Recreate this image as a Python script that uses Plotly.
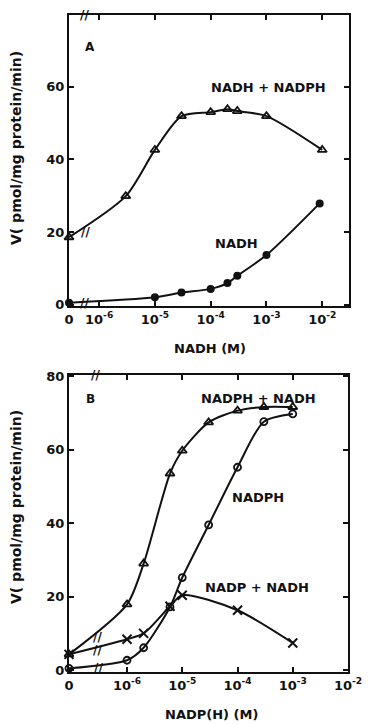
import plotly.graph_objects as go

# ---------------- data ----------------
# Panel A: NADH concentration (M), 0 = no NADH
a_conc_mix = [0, 3e-6, 1e-5, 3e-5, 1e-4, 2e-4, 3e-4, 1e-3, 1e-2]
a_v_mix = [18.6, 29.9, 42.6, 51.9, 53.0, 53.8, 53.3, 51.9, 42.6]      # NADH + NADPH
a_conc_nadh = [0, 1e-5, 3e-5, 1e-4, 2e-4, 3e-4, 1e-3, 9e-3]
a_v_nadh = [0.6, 2.1, 3.4, 4.4, 6.0, 8.0, 13.7, 27.9]                  # NADH

# Panel B: NADP(H) concentration (M)
b_conc_mix = [0, 1e-6, 2e-6, 6e-6, 1e-5, 3e-5, 1e-4, 3e-4, 1e-3]
b_v_mix = [4.3, 17.9, 29.0, 53.5, 59.7, 67.4, 70.6, 71.6, 71.6]        # NADPH + NADH
b_conc_nadph = [0, 1e-6, 2e-6, 6e-6, 1e-5, 3e-5, 1e-4, 3e-4, 1e-3]
b_v_nadph = [0.5, 2.7, 6.1, 17.2, 25.2, 39.5, 55.2, 67.6, 69.7]        # NADPH
b_conc_nadp = [0, 1e-6, 2e-6, 6e-6, 1e-5, 1e-4, 1e-3]
b_v_nadp = [4.3, 8.4, 10.0, 17.4, 20.4, 16.3, 7.4]                    # NADP + NADH

a_xticks = [0, 1e-6, 1e-5, 1e-4, 1e-3, 1e-2]
a_xticktext = ["0", "10<sup>-6</sup>", "10<sup>-5</sup>", "10<sup>-4</sup>",
               "10<sup>-3</sup>", "10<sup>-2</sup>"]
b_xticks = [0, 1e-6, 1e-5, 1e-4, 1e-3, 1e-2]
b_xticktext = ["0", "10<sup>-6</sup>", "10<sup>-5</sup>", "10<sup>-4</sup>",
               "10<sup>-3</sup>", "10<sup>-2</sup>"]
a_yticks = [0, 20, 40, 60]
b_yticks = [0, 20, 40, 60, 80]

# ---------------- layout constants ----------------
W, H = 371, 724
A_LOGRANGE = [-6.54, -1.52]     # log10 range of panel A x axis
B_LOGRANGE = [-7.05, -2.0]
A_ZERO = 10 ** A_LOGRANGE[0]    # where concentration 0 is drawn
B_ZERO = 10 ** B_LOGRANGE[0]

FONT = "DejaVu Sans"
INK = "#111111"


def px(x):
    return x / W


def py(y):
    return 1 - y / H


def zmap(conc, zero):
    return [zero if c == 0 else c for c in conc]


fig = go.Figure()

line = dict(color=INK, width=2, shape="spline", smoothing=0.75)

# Panel A
fig.add_trace(go.Scatter(x=zmap(a_conc_mix, A_ZERO), y=a_v_mix, mode="lines+markers",
                         line=line, cliponaxis=False,
                         marker=dict(symbol="triangle-up-open", size=8, color=INK,
                                     line=dict(width=1.8, color=INK)),
                         xaxis="x", yaxis="y"))
fig.add_trace(go.Scatter(x=zmap(a_conc_nadh, A_ZERO), y=a_v_nadh, mode="lines+markers",
                         line=line, cliponaxis=False,
                         marker=dict(symbol="circle", size=8, color=INK),
                         xaxis="x", yaxis="y"))
# Panel B
fig.add_trace(go.Scatter(x=zmap(b_conc_mix, B_ZERO), y=b_v_mix, mode="lines+markers",
                         line=line, cliponaxis=False,
                         marker=dict(symbol="triangle-up-open", size=8, color=INK,
                                     line=dict(width=1.8, color=INK)),
                         xaxis="x2", yaxis="y2"))
fig.add_trace(go.Scatter(x=zmap(b_conc_nadph, B_ZERO), y=b_v_nadph, mode="lines+markers",
                         line=line, cliponaxis=False,
                         marker=dict(symbol="circle-open", size=7, color=INK,
                                     line=dict(width=1.8, color=INK)),
                         xaxis="x2", yaxis="y2"))
fig.add_trace(go.Scatter(x=zmap(b_conc_nadp, B_ZERO), y=b_v_nadp, mode="lines+markers",
                         line=line, cliponaxis=False,
                         marker=dict(symbol="x-thin-open", size=9, color=INK,
                                     line=dict(width=2, color=INK)),
                         xaxis="x2", yaxis="y2"))

tickfont = dict(family=FONT, size=13, color=INK, weight="bold")
axis_common = dict(showline=True, linewidth=2, linecolor=INK, mirror="ticks",
                   ticks="inside", ticklen=5, tickwidth=2, tickcolor=INK,
                   showgrid=False, zeroline=False, tickfont=tickfont,
                   automargin=False)

fig.update_layout(
    template="none",
    width=W, height=H,
    margin=dict(l=0, r=0, t=0, b=0, pad=0, autoexpand=False),
    paper_bgcolor="white", plot_bgcolor="white",
    showlegend=False,
    xaxis=dict(type="log", range=A_LOGRANGE, domain=[px(69), px(349)],
               tickvals=zmap(a_xticks, A_ZERO), ticktext=a_xticktext,
               anchor="y", **axis_common),
    yaxis=dict(range=[-0.3, 79.7], domain=[py(306), py(15)], tickvals=a_yticks,
               anchor="x", **axis_common),
    xaxis2=dict(type="log", range=B_LOGRANGE, domain=[px(69), px(348)],
                tickvals=zmap(b_xticks, B_ZERO), ticktext=b_xticktext,
                anchor="y2", **axis_common),
    yaxis2=dict(range=[-0.5, 80.3], domain=[py(672), py(375)], tickvals=b_yticks,
                anchor="x2", **axis_common),
)

lab = dict(family=FONT, size=13, color=INK, weight="bold")
texts = [
    ("A", 90, 47, 12),
    ("NADH + NADPH", 268, 87, 13),
    ("NADH", 236, 243, 13),
    ("NADH (M)", 210, 348, 13),
    ("B", 90, 399, 12),
    ("NADPH + NADH", 258, 398, 13),
    ("NADPH", 258, 497, 13),
    ("NADP + NADH", 257, 587, 13),
    ("NADP(H) (M)", 211, 714, 13),
]
for t, x, y, s in texts:
    fig.add_annotation(text=t, x=px(x), y=py(y), xref="paper", yref="paper",
                       showarrow=False, xanchor="center", yanchor="middle",
                       font=dict(lab, size=s))

for y in (148, 507):
    fig.add_annotation(text="V( pmol/mg protein/min)", x=px(16), y=py(y),
                       xref="paper", yref="paper", showarrow=False, textangle=-90,
                       xanchor="center", yanchor="middle", font=dict(lab, size=14))

# axis-break marks
breaks = [(84, 15), (85, 232), (84, 303), (95, 375), (97, 637), (97, 650), (98, 668)]
for x, y in breaks:
    fig.add_annotation(text="//", x=px(x), y=py(y), xref="paper", yref="paper",
                       showarrow=False, xanchor="center", yanchor="middle",
                       font=dict(family=FONT, size=12, color=INK, weight="bold"))

fig.write_html("out.html",
               config={"displayModeBar": False},
               post_script="document.body.style.margin='0';"
                           "document.body.style.overflow='hidden';")
